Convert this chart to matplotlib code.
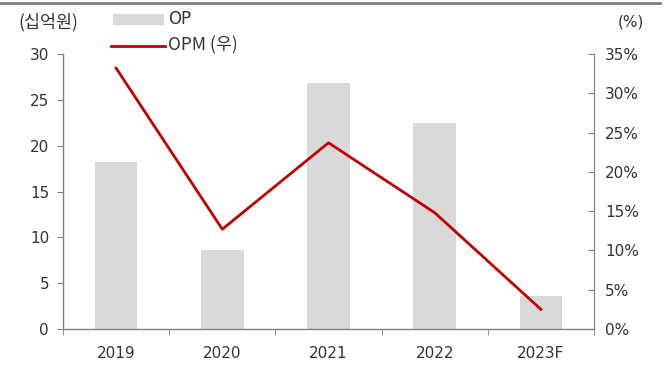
import matplotlib
matplotlib.use("Agg")
import matplotlib.pyplot as plt
from matplotlib.lines import Line2D
import numpy as np

plt.rcParams['font.family'] = ['DejaVu Sans', 'Noto Sans CJK KR']

categories = ['2019', '2020', '2021', '2022', '2023F']
op = [18.2, 8.6, 26.8, 22.5, 3.6]
opm = [33.2, 12.7, 23.7, 14.8, 2.5]
left_ticks = [0, 5, 10, 15, 20, 25, 30]
right_ticks = [0, 5, 10, 15, 20, 25, 30, 35]

FS = 11
TC = '#333333'
KR = ['Noto Sans CJK KR', 'DejaVu Sans']

fig = plt.figure(figsize=(6.67, 3.65), dpi=100)
ax = fig.add_axes([63/667, 1-329/365, (594-63)/667, (329-54)/365])
x = np.arange(len(categories))
ax.bar(x, op, width=0.4, color='#d9d9d9', zorder=1)
ax.set_xlim(-0.5, len(categories)-0.5)
ax.set_ylim(0, 30)
ax.set_yticks(left_ticks)
ax.set_yticklabels([str(t) for t in left_ticks], fontsize=FS, color=TC)
ax.set_xticks(x)
ax.set_xticklabels(categories, fontsize=FS, color=TC)
ax.set_xticks(np.arange(len(categories)+1)-0.5, minor=True)
ax.tick_params(axis='x', which='major', length=0, pad=12)
ax.tick_params(axis='x', which='minor', length=4, direction='out', color='#808080')
ax.tick_params(axis='y', length=4, direction='out', color='#808080', pad=6)
for s in ['top', 'right']:
    ax.spines[s].set_visible(False)
for s in ['left', 'bottom']:
    ax.spines[s].set_color('#808080')
    ax.spines[s].set_linewidth(1)

ax2 = ax.twinx()
ax2.plot(x, opm, color='#c00000', linewidth=2, zorder=3)
ax2.set_ylim(0, 35)
ax2.set_yticks(right_ticks)
ax2.set_yticklabels([f'{t}%' for t in right_ticks], fontsize=FS, color=TC)
ax2.tick_params(axis='y', length=4, direction='in', color='#808080', pad=8)
for s in ['top', 'left', 'bottom']:
    ax2.spines[s].set_visible(False)
ax2.spines['right'].set_color('#808080')

fig.text(18/667, 1-22/365, '(십억원)', fontsize=12.5, va='center', ha='left', color=TC, family=KR)
fig.text(644/667, 1-22/365, '(%)', fontsize=FS, va='center', ha='right', color=TC)

# legend
fig.patches.append(plt.Rectangle((113/667, 1-24/365), 50/667, 10/365, transform=fig.transFigure,
                                 color='#d9d9d9', figure=fig))
fig.text(168/667, 1-19/365, 'OP', fontsize=12, va='center', ha='left', color=TC)
fig.lines.append(Line2D([111/667, 165/667], [1-46/365, 1-46/365], transform=fig.transFigure,
                        color='#c00000', linewidth=2, figure=fig))
fig.text(168/667, 1-45/365, 'OPM (우)', fontsize=12.5, va='center', ha='left', color=TC, family=KR)

# top border
fig.lines.append(Line2D([0, 660/667], [1-3/365, 1-3/365], transform=fig.transFigure,
                        color='#808080', linewidth=2, figure=fig))

fig.savefig('out.png', dpi=100)
